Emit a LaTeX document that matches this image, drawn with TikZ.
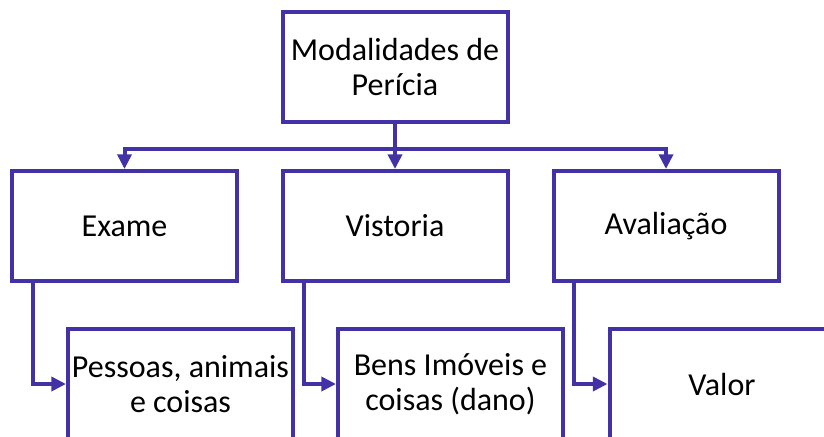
\documentclass[tikz,border=0pt]{standalone}
\usepackage{fontspec}
\setmainfont{Carlito}
\usetikzlibrary{arrows.meta,calc}
\definecolor{traco}{RGB}{67,50,166}
\tikzset{
  caixa/.style={draw=traco, line width=3pt, fill=white, minimum width=168.75pt, minimum height=82.5pt,
    inner sep=0pt, align=center, font=\fontsize{24}{26}\selectfont},
  liga/.style={draw=traco, line width=3pt, -{Triangle[length=11pt,width=10.5pt]}},
}
\begin{document}
\begin{tikzpicture}[x=0.75pt,y=-0.75pt]
\useasboundingbox (0,0) rectangle (824,436);
\clip (0,0) rectangle (824,436);

\node[caixa] (pericia) at (395,67) {Modalidades de\\Perícia};

\node[caixa] (exame) at (124.5,226) {Exame};
\node[caixa] (vistoria) at (395,226) {Vistoria};
\node[caixa] (avaliacao) at (666,226) {Avaliação};

\node[caixa] (pessoas) at (180.5,384) {Pessoas, animais\\e coisas};
\node[caixa] (bens) at (450.5,384) {Bens Imóveis e\\coisas (dano)};
\node[caixa] (valor) at (722,384) {Valor};

\coordinate (ramo) at (395,149);
\draw[liga] (pericia) -- (vistoria);
\draw[liga] (ramo) -| (exame);
\draw[liga] (ramo) -| (avaliacao);

\draw[liga] ($(exame.south west)+(23,0)$) |- (pessoas);
\draw[liga] ($(vistoria.south west)+(23,0)$) |- (bens);
\draw[liga] ($(avaliacao.south west)+(22,0)$) |- (valor);
\end{tikzpicture}
\end{document}
